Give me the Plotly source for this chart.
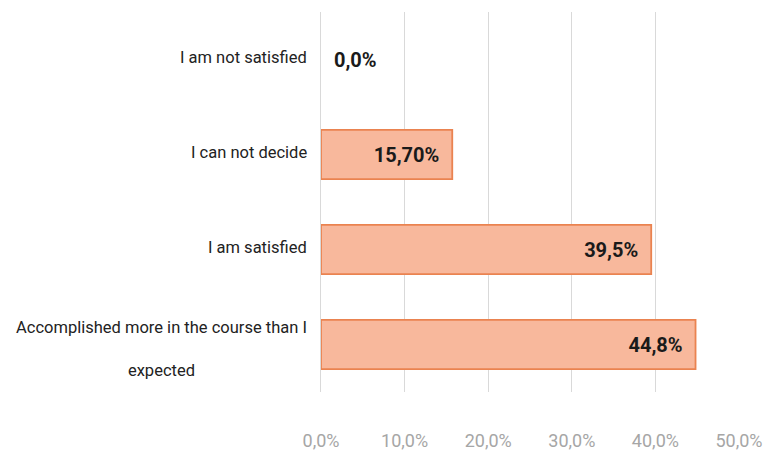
import plotly.graph_objects as go

categories = ["I am not satisfied", "I can not decide", "I am satisfied",
              "Accomplished more in the course than I<br> <br>expected"]
values = [0.0, 15.7, 39.5, 44.8]
value_labels = ["0,0%", "15,70%", "39,5%", "44,8%"]
tick_vals = [0, 10, 20, 30, 40, 50]
tick_text = ["0,0%", "10,0%", "20,0%", "30,0%", "40,0%", "50,0%"]

FONT = "Roboto, Liberation Sans Narrow, sans-serif"
NB = "\u00a0"

fig = go.Figure()
fig.add_trace(go.Bar(
    y=categories, x=values, orientation="h",
    marker=dict(color="#F8B89C",
                line=dict(color="#EA8350", width=[0 if v == 0 else 1.8 for v in values])),
    width=0.52,
    text=value_labels,
    texttemplate=[NB * 2 + "%{text}" if v == 0 else "%{text}" + NB * 2 for v in values],
    textposition=["outside" if v == 0 else "inside" for v in values],
    insidetextanchor="end",
    cliponaxis=False,
    textfont=dict(family=FONT, size=20, color="#1a1a1a", weight="bold"),
    outsidetextfont=dict(family=FONT, size=20, color="#1a1a1a", weight="bold"),
    insidetextfont=dict(family=FONT, size=20, color="#1a1a1a", weight="bold"),
))

for c in categories:
    multi = "<br>" in c
    fig.add_annotation(
        x=0, xref="paper", xanchor="right", xshift=-12,
        y=c, yref="y", yanchor="middle", yshift=-4 if multi else 2,
        text=c, showarrow=False, align="center",
        font=dict(family=FONT, size=16.5, color="#222222"),
    )

fig.update_layout(
    width=768, height=457,
    margin=dict(l=313, r=37, t=4, b=73),
    plot_bgcolor="white", paper_bgcolor="white",
    showlegend=False,
    bargap=0.48,
)
fig.update_xaxes(
    range=[0, 50], tickvals=tick_vals, ticktext=tick_text,
    showgrid=True, gridcolor="#D9D9D9", gridwidth=1,
    zeroline=False, showline=False, ticks="",
    ticklabelstandoff=36,
    tickfont=dict(family=FONT, size=18, color="#A6A6A6"),
)
fig.update_yaxes(
    categoryorder="array", categoryarray=categories[::-1],
    showticklabels=False, showgrid=False, zeroline=False,
    showline=True, linecolor="#D9D9D9", ticks="",
)

fig.write_html("out.html")
